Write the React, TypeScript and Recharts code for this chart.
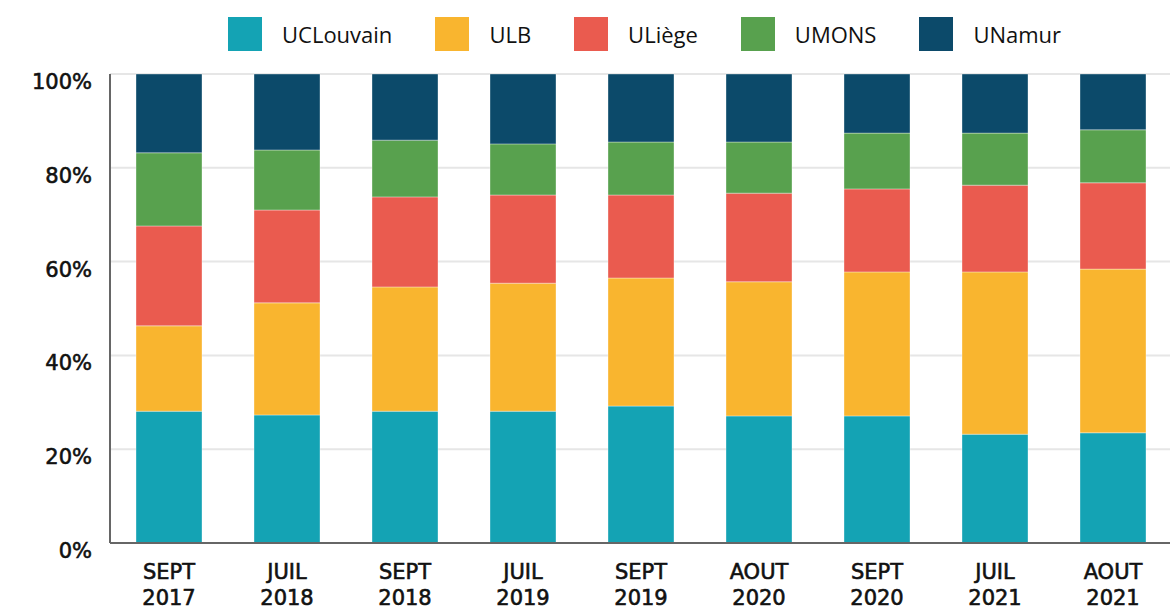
import React from "react";
import { BarChart, Bar, XAxis, YAxis, CartesianGrid } from "recharts";

const categories = ["SEPT 2017", "JUIL 2018", "SEPT 2018", "JUIL 2019", "SEPT 2019", "AOUT 2020", "SEPT 2020", "JUIL 2021", "AOUT 2021"];
const seriesNames = ["UCLouvain", "ULB", "ULiège", "UMONS", "UNamur"];
const seriesColors = ["#14a3b4", "#f9b52f", "#ea5b4f", "#58a14e", "#0c4a6a"];

const uclouvain = [28.1, 27.3, 28.1, 28.1, 29.2, 27.1, 27.1, 23.2, 23.5];
const ulb = [18.2, 23.9, 26.5, 27.3, 27.3, 28.6, 30.7, 34.6, 34.9];
const uliege = [21.3, 19.8, 19.2, 18.8, 17.7, 18.9, 17.7, 18.5, 18.4];
const umons = [15.6, 12.8, 12.1, 10.9, 11.3, 10.9, 11.9, 11.1, 11.3];
const unamur = [16.8, 16.2, 14.1, 14.9, 14.5, 14.5, 12.6, 12.6, 11.9];

const yTicks = [0, 20, 40, 60, 80, 100];

const seriesValues = [uclouvain, ulb, uliege, umons, unamur];

const data = categories.map((c, i) => {
  const row: Record<string, number | string> = { name: c };
  seriesNames.forEach((s, k) => {
    row[s] = seriesValues[k][i];
  });
  return row;
});

const tickFont = "'DejaVu Sans', sans-serif";

const XTick = (props: any) => {
  const { x, y, payload } = props;
  const parts = String(payload.value).split(" ");
  return (
    <text x={x} y={y} textAnchor="middle" fill="#111" stroke="#111" strokeWidth={0.6} fontFamily={tickFont} fontSize={21}>
      <tspan x={x} dy={28}>{parts[0]}</tspan>
      <tspan x={x} dy={26}>{parts[1]}</tspan>
    </text>
  );
};

const YTick = (props: any) => {
  const { x, y, payload } = props;
  return (
    <text x={x - 10} y={y} dy={15} textAnchor="end" fill="#111" stroke="#111" strokeWidth={0.6} fontFamily={tickFont} fontSize={21}>
      {payload.value}%
    </text>
  );
};

export default function App() {
  return (
    <div style={{ position: "absolute", left: 0, top: 0, width: 1170, height: 611, background: "#fff" }}>
      <div
        style={{
          position: "absolute",
          left: 0,
          top: 17,
          width: 1170,
          height: 34,
          display: "flex",
          justifyContent: "flex-start",
          paddingLeft: 228,
          boxSizing: "border-box",
          fontFamily: "'Open Sans', sans-serif",
          fontSize: 22,
          color: "#111",
        }}
      >
        {seriesNames.map((s, k) => (
          <div key={s} style={{ display: "flex", alignItems: "center", marginRight: 43 }}>
            <div style={{ width: 34, height: 34, background: seriesColors[k], marginRight: 20 }} />
            <span>{s}</span>
          </div>
        ))}
      </div>
      <BarChart
        width={1170}
        height={611}
        data={data}
        margin={{ top: 74, right: -2, bottom: 0, left: 0 }}
        barCategoryGap={26}
      >
        <CartesianGrid vertical={false} stroke="#e6e6e6" strokeWidth={2} />
        <XAxis
          dataKey="name"
          height={68}
          tick={<XTick />}
          tickLine={false}
          axisLine={{ stroke: "#666", strokeWidth: 2 }}
          interval={0}
        />
        <YAxis
          width={110}
          domain={[0, 100]}
          ticks={yTicks}
          tick={<YTick />}
          tickLine={false}
          axisLine={{ stroke: "#666", strokeWidth: 2 }}
        />
        {seriesNames.map((s, k) => (
          <Bar
            key={s}
            dataKey={s}
            stackId="a"
            fill={seriesColors[k]}
            stroke="#ffffff"
            strokeOpacity={0.35}
            strokeWidth={1}
            isAnimationActive={false}
          />
        ))}
      </BarChart>
    </div>
  );
}
